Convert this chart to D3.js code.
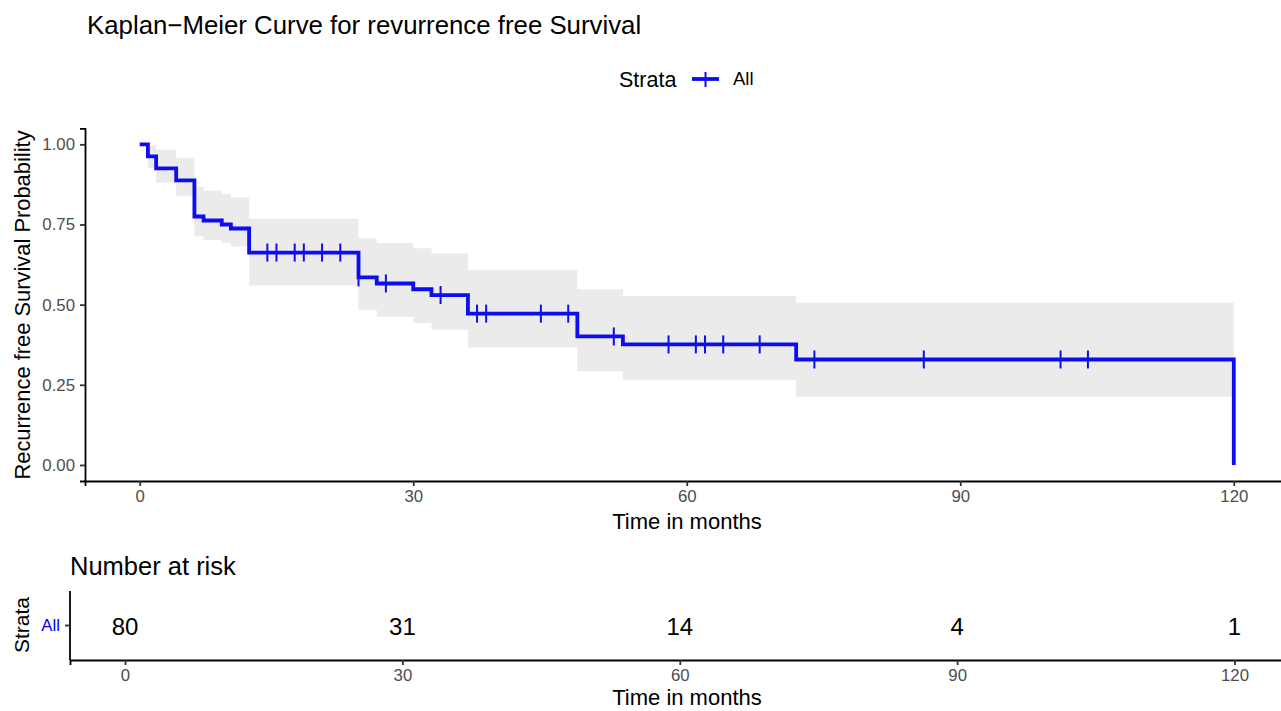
<!DOCTYPE html>
<html>
<head>
<meta charset="utf-8">
<script src="https://cdn.jsdelivr.net/npm/d3@7"></script>
<style>
  html, body { margin: 0; padding: 0; background: #fff; }
  svg { display: block; font-family: "Liberation Sans", Arial, Helvetica, sans-serif; }
</style>
</head>
<body>
<svg id="chart" width="1281" height="711"></svg>
<script>
// ---- data ----
const stepTimes = [0, 0.9, 1.8, 4, 6, 7, 9, 10, 12, 24, 26, 30, 32, 36, 48, 53, 72, 120];
const survival  = [1, 0.9625, 0.925, 0.8875, 0.775, 0.7625, 0.75, 0.7375, 0.6625, 0.585, 0.566, 0.548, 0.530, 0.472, 0.401, 0.376, 0.329, 0];
const upperCI   = [1, 0.997, 0.983, 0.957, 0.868, 0.856, 0.845, 0.835, 0.768, 0.707, 0.692, 0.676, 0.660, 0.608, 0.548, 0.527, 0.506];
const lowerCI   = [1, 0.926, 0.880, 0.840, 0.713, 0.702, 0.692, 0.681, 0.560, 0.483, 0.462, 0.443, 0.422, 0.366, 0.292, 0.266, 0.213];
const censorTimes = [14, 15, 17, 18, 20, 22, 24, 27, 33, 37, 38, 44, 47, 52, 58, 61, 62, 64, 68, 74, 86, 101, 104];
const xTicks = [0, 30, 60, 90, 120];
const yTicks = [0, 0.25, 0.5, 0.75, 1];
const riskTimes = [0, 30, 60, 90, 120];
const riskCounts = [80, 31, 14, 4, 1];
const strataName = "All";

const titleText = "Kaplan\u2212Meier Curve for revurrence free Survival";
const yLabel = "Recurrence free Survival Probability";
const xLabel = "Time in months";

const svg = d3.select("#chart");
const lineColor = "#0d0df2";

// ---- main plot scales ----
const x = d3.scaleLinear().domain([-6, 126]).range([85, 1288.5]);
const y = d3.scaleLinear().domain([-0.05, 1.05]).range([481, 128.3]);

// title
svg.append("text").attr("x", 87).attr("y", 25).attr("dy", "0.35em")
  .attr("font-size", 25.8).attr("fill", "#000").text(titleText);

// legend
const lg = svg.append("g");
lg.append("text").attr("x", 619).attr("y", 79).attr("dy", "0.35em")
  .attr("font-size", 21.5).attr("fill", "#000").text("Strata");
lg.append("line").attr("x1", 692).attr("x2", 719).attr("y1", 79).attr("y2", 79)
  .attr("stroke", lineColor).attr("stroke-width", 3.8);
lg.append("line").attr("x1", 705.5).attr("x2", 705.5).attr("y1", 72).attr("y2", 87)
  .attr("stroke", lineColor).attr("stroke-width", 2);
lg.append("text").attr("x", 733).attr("y", 79).attr("dy", "0.35em")
  .attr("font-size", 18.5).attr("fill", "#000").text(strataName);

// confidence band
const bandPts = upperCI.map((u, i) => ({t: stepTimes[i], u: u, l: lowerCI[i]}));
bandPts.push({t: stepTimes[stepTimes.length - 1], u: upperCI[upperCI.length - 1], l: lowerCI[lowerCI.length - 1]});
svg.append("path").datum(bandPts)
  .attr("d", d3.area().curve(d3.curveStepAfter).x(d => x(d.t)).y0(d => y(d.l)).y1(d => y(d.u)))
  .attr("fill", "#ebebeb");

// survival curve
const survPts = stepTimes.map((t, i) => ({t: t, s: survival[i]}));
svg.append("path").datum(survPts)
  .attr("d", d3.line().curve(d3.curveStepAfter).x(d => x(d.t)).y(d => y(d.s)))
  .attr("fill", "none").attr("stroke", lineColor).attr("stroke-width", 3.8)
  .attr("stroke-linejoin", "miter");

// censor marks
function survAt(t) {
  let v = survival[0];
  for (let i = 0; i < stepTimes.length; i++) { if (stepTimes[i] <= t) v = survival[i]; }
  return v;
}
svg.append("g").selectAll("line").data(censorTimes).join("line")
  .attr("x1", d => x(d)).attr("x2", d => x(d))
  .attr("y1", d => y(survAt(d)) - 9).attr("y2", d => y(survAt(d)) + 9)
  .attr("stroke", lineColor).attr("stroke-width", 2);

// axes
const axisColor = "#000";
const tickTextColor = "#4d4d4d";
const xAxis = svg.append("g").attr("transform", "translate(0,481)")
  .call(d3.axisBottom(x).tickValues(xTicks).tickSize(5).tickPadding(4).tickFormat(d3.format("d")));
const yAxis = svg.append("g").attr("transform", "translate(85,0)")
  .call(d3.axisLeft(y).tickValues(yTicks).tickSize(5).tickPadding(5).tickFormat(d3.format(".2f")));
[xAxis, yAxis].forEach(g => {
  g.select(".domain").attr("stroke", axisColor).attr("stroke-width", 1.8);
  g.selectAll(".tick line").attr("stroke", "#333").attr("stroke-width", 1.8);
  g.selectAll(".tick text").attr("fill", tickTextColor).attr("font-size", 16.8)
    .attr("font-family", "\"Liberation Sans\", Arial, sans-serif");
});

svg.append("text").attr("x", 687).attr("y", 521).attr("dy", "0.35em")
  .attr("text-anchor", "middle").attr("font-size", 22).attr("fill", "#000").text(xLabel);
svg.append("text").attr("transform", "translate(22,305) rotate(-90)").attr("dy", "0.35em")
  .attr("text-anchor", "middle").attr("font-size", 21.9).attr("fill", "#000").text(yLabel);

// ---- risk table ----
const xr = d3.scaleLinear().domain([-5.95, 126]).range([70, 1290]);
const yr = d3.scaleBand().domain([strataName]).range([660, 591]);

svg.append("text").attr("x", 70).attr("y", 566).attr("dy", "0.35em")
  .attr("font-size", 25.5).attr("fill", "#000").text("Number at risk");

svg.append("g").selectAll("text").data(riskTimes).join("text")
  .attr("x", (d) => xr(d)).attr("y", yr(strataName) + yr.bandwidth() / 2 + 1).attr("dy", "0.35em")
  .attr("text-anchor", "middle").attr("font-size", 24).attr("fill", "#000")
  .text((d, i) => riskCounts[i]);

const xrAxis = svg.append("g").attr("transform", "translate(0,660)")
  .call(d3.axisBottom(xr).tickValues(riskTimes).tickSize(5).tickPadding(4).tickFormat(d3.format("d")));
const yrAxis = svg.append("g").attr("transform", "translate(70,0)")
  .call(d3.axisLeft(yr).tickSize(5).tickPadding(5));
[xrAxis, yrAxis].forEach(g => {
  g.select(".domain").attr("stroke", axisColor).attr("stroke-width", 1.8);
  g.selectAll(".tick line").attr("stroke", "#333").attr("stroke-width", 1.8);
  g.selectAll(".tick text").attr("fill", tickTextColor).attr("font-size", 16.8)
    .attr("font-family", "\"Liberation Sans\", Arial, sans-serif");
});
yrAxis.selectAll(".tick text").attr("fill", "#0000ff").attr("font-size", 16.8);
yrAxis.select(".domain").attr("d", "M0,591V660");

svg.append("text").attr("x", 687).attr("y", 697).attr("dy", "0.35em")
  .attr("text-anchor", "middle").attr("font-size", 22).attr("fill", "#000").text(xLabel);
svg.append("text").attr("transform", "translate(22,625) rotate(-90)").attr("dy", "0.35em")
  .attr("text-anchor", "middle").attr("font-size", 21).attr("fill", "#000").text("Strata");
</script>
</body>
</html>
